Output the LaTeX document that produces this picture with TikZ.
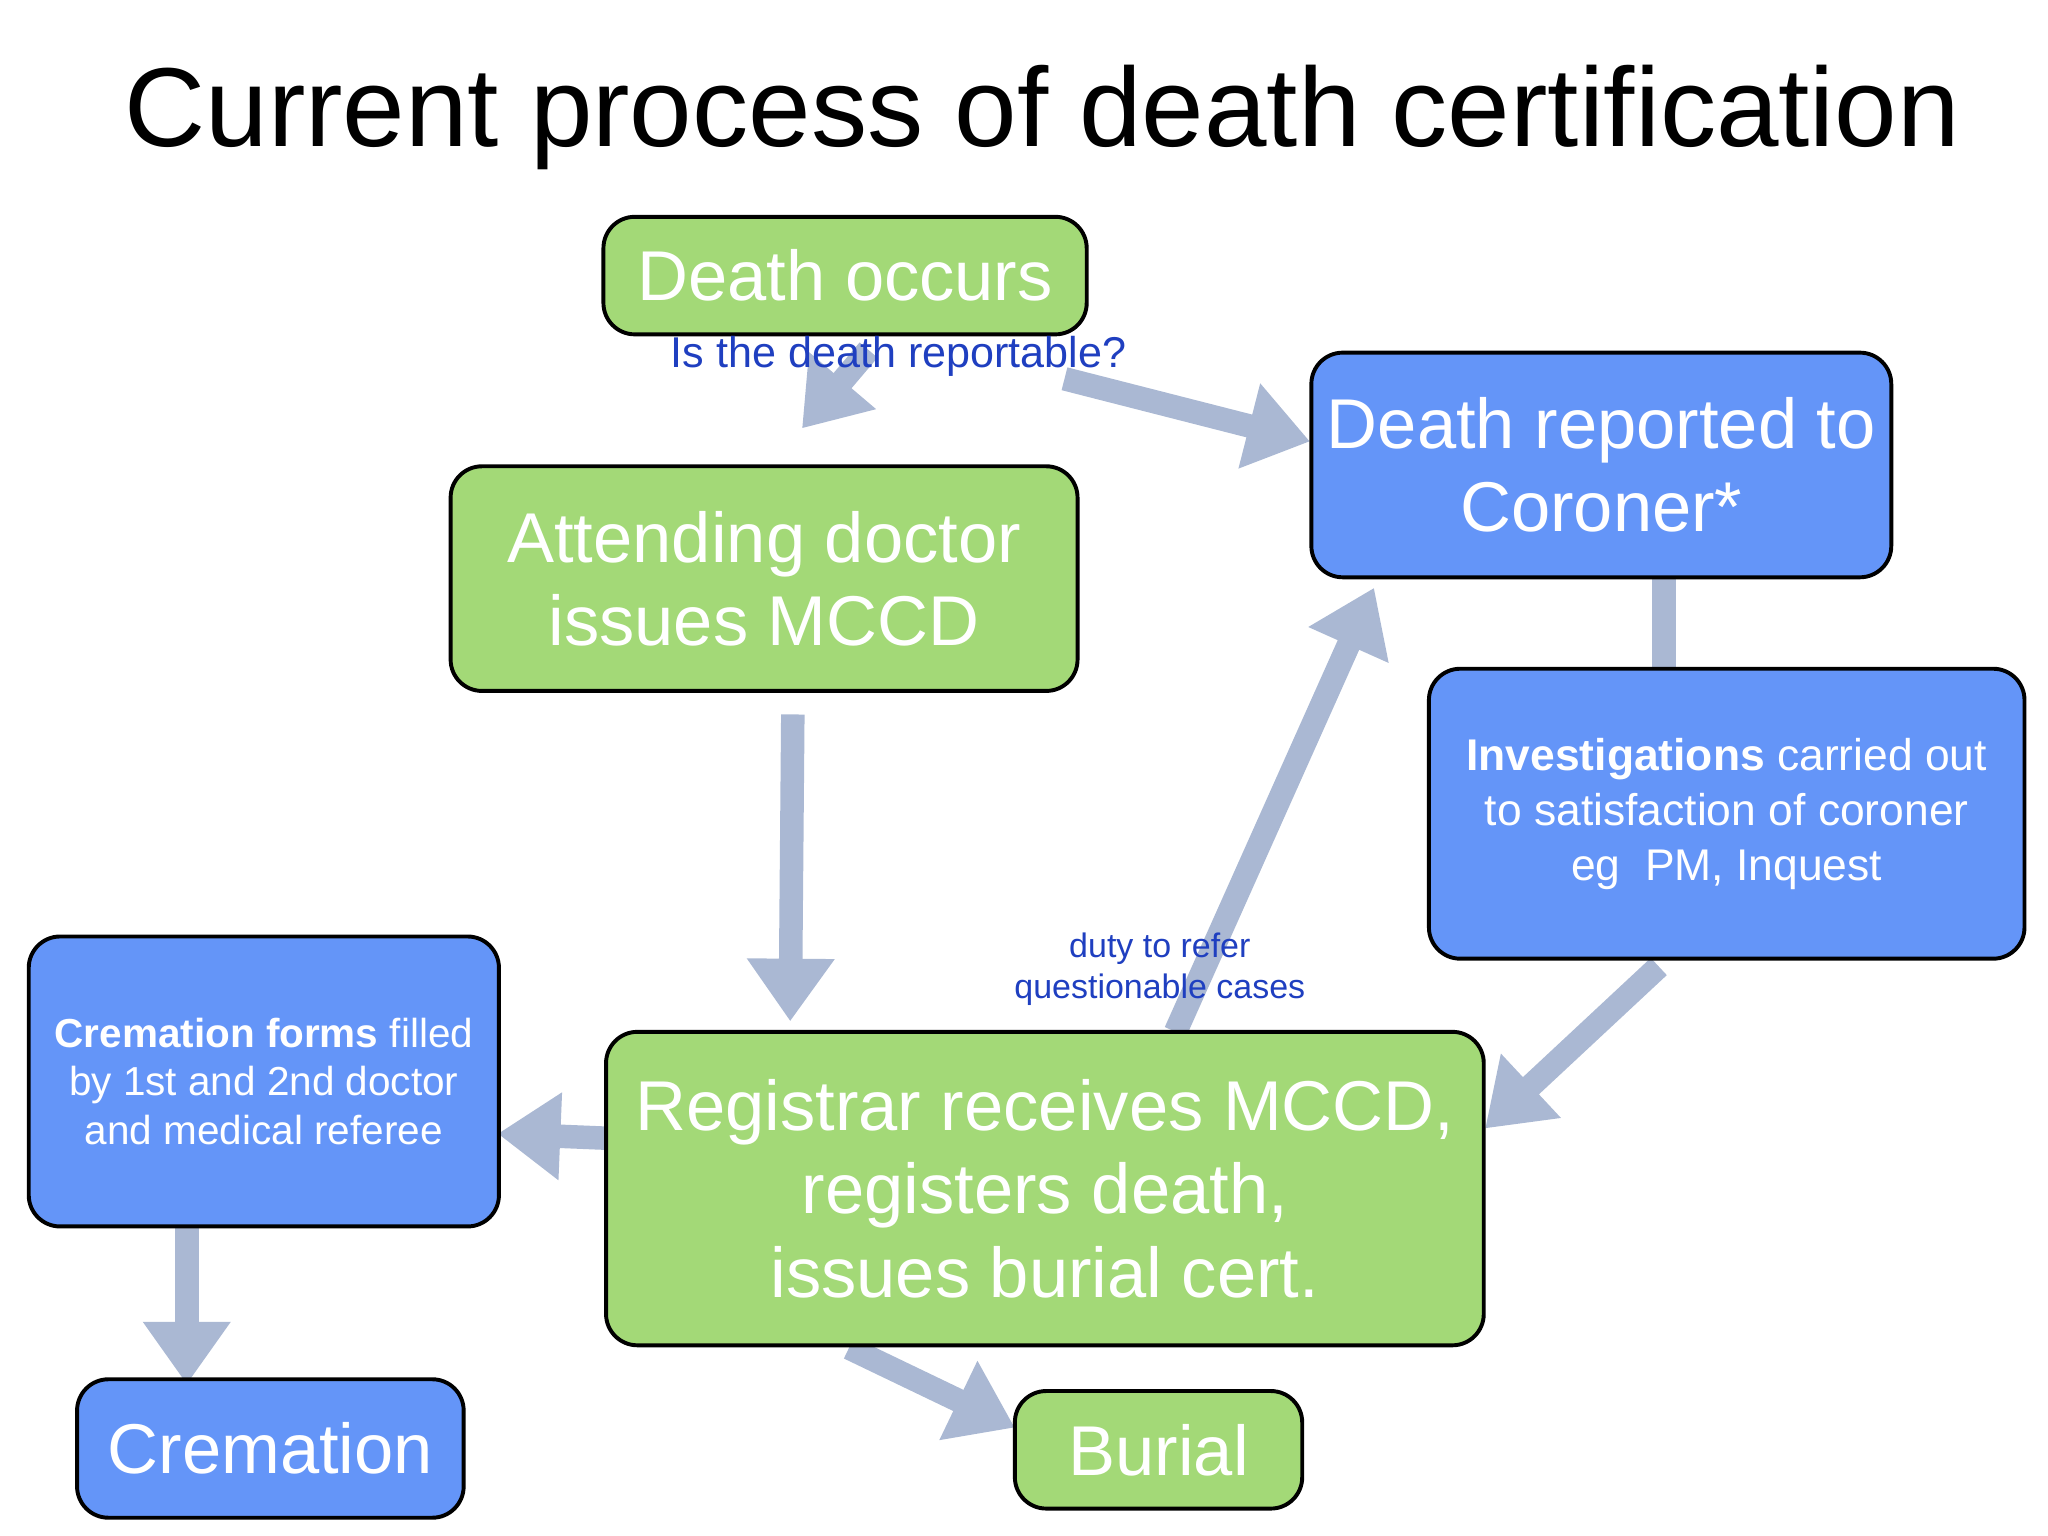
\documentclass[tikz,border=0pt]{standalone}
\usepackage{fontspec}
\setmainfont{Liberation Sans}
\usetikzlibrary{arrows.meta}
\definecolor{gbox}{HTML}{A3D977}
\definecolor{bbox}{HTML}{6495F8}
\definecolor{arr}{HTML}{AAB8D3}
\definecolor{lbl}{HTML}{1F3FC0}
\begin{document}
\begin{tikzpicture}[x=0.5pt,y=-0.5pt,
  box/.style={draw=black,line width=1.5pt,rounded corners=12pt,inner sep=0pt,align=center,text=white},
  green/.style={box,fill=gbox},
  blue/.style={box,fill=bbox},
  flow/.style={draw=arr,line width=9pt,-{Triangle[width=32pt,length=24pt]}},
  lab/.style={text=lbl,align=center,inner sep=0pt}]
\useasboundingbox (0,0) rectangle (1568,1176);
\node (title) at (798,90) {\fontsize{43}{48}\selectfont Current process of death certification};
% connector ends
\coordinate (a1) at (665,268); \coordinate (a2) at (614,328);
\coordinate (b1) at (815,290); \coordinate (b2) at (1003,338);
\coordinate (c1) at (607,547); \coordinate (c2) at (605,782);
\coordinate (d1) at (1274,442); \coordinate (d2) at (1274,512);
\coordinate (e1) at (1270,740); \coordinate (e2) at (1137,864);
\coordinate (f1) at (900,790); \coordinate (f2) at (1052,450);
\coordinate (g1) at (478,872); \coordinate (g2) at (381,868);
\coordinate (h1) at (143,924); \coordinate (h2) at (143,1060);
\coordinate (i1) at (650,1032); \coordinate (i2) at (777,1093);
\draw[flow] (a1) -- (a2);
\draw[flow] (b1) -- (b2);
\draw[flow] (c1) -- (c2);
\draw[draw=arr,line width=9pt] (d1) -- (d2);
\draw[flow] (e1) -- (e2);
\draw[flow] (f1) -- (f2);
\draw[flow] (g1) -- (g2);
\draw[flow] (h1) -- (h2);
\draw[flow] (i1) -- (i2);
% boxes
\node[green,minimum width=185pt,minimum height=45pt,font=\fontsize{27}{31}\selectfont] (death) at (647,211) {Death occurs};
\node[blue,minimum width=222pt,minimum height=86pt,font=\fontsize{27}{32}\selectfont] (coroner) at (1226,356) {Death reported to\\Coroner*};
\node[green,minimum width=240pt,minimum height=86pt,font=\fontsize{27}{32}\selectfont] (attend) at (585,443) {Attending doctor\\issues MCCD};
\node[blue,minimum width=228pt,minimum height=111pt,font=\fontsize{17}{21}\selectfont] (invest) at (1322,623) {\textbf{Investigations} carried out\\to satisfaction of coroner\\eg\ \ PM, Inquest};
\node[blue,minimum width=180pt,minimum height=111pt,font=\fontsize{15.5}{18.5}\selectfont] (cforms) at (202,828) {\textbf{Cremation forms} filled\\by 1st and 2nd doctor\\and medical referee};
\node[green,minimum width=336pt,minimum height=120pt,font=\fontsize{27}{32}\selectfont] (reg) at (800,910) {Registrar receives MCCD,\\registers death,\\issues burial cert.};
\node[blue,minimum width=148pt,minimum height=53pt,font=\fontsize{27}{31}\selectfont] (crem) at (207,1109) {Cremation};
\node[green,minimum width=110pt,minimum height=45pt,font=\fontsize{27}{31}\selectfont] (burial) at (887,1110) {Burial};
% labels
\node[lab,font=\fontsize{16.5}{20}\selectfont] (q) at (688,273) {Is the death reportable?};
\node[lab,font=\fontsize{13}{16}\selectfont] (duty) at (888,742) {duty to refer\\questionable cases};
\end{tikzpicture}
\end{document}
